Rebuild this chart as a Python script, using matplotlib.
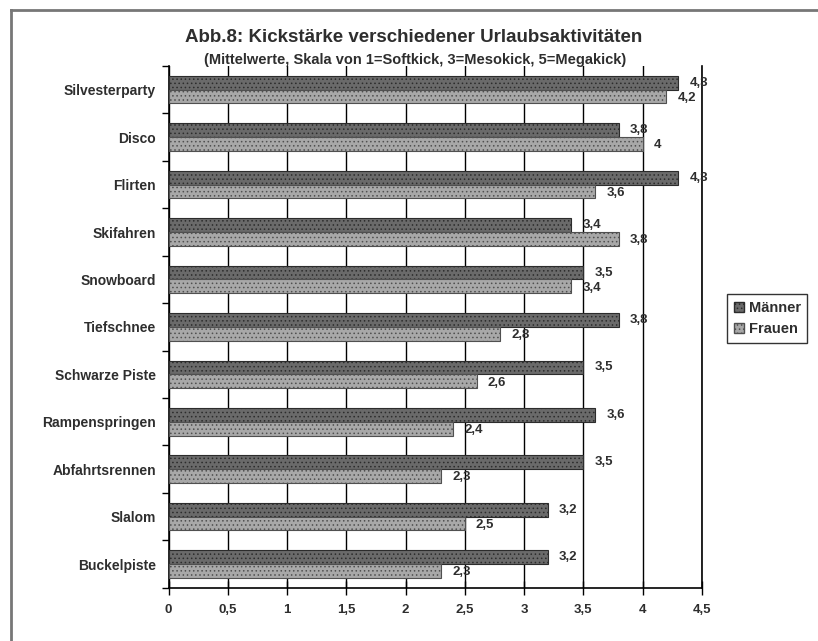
import matplotlib
matplotlib.use("Agg")
from matplotlib import pyplot as plt
from matplotlib.patches import Patch
import numpy as np

plt.rcParams['font.family'] = ['Liberation Sans', 'DejaVu Sans']
plt.rcParams['font.weight'] = 'bold'
plt.rcParams['hatch.linewidth'] = 0.6

aktivitaeten = ["Silvesterparty", "Disco", "Flirten", "Skifahren", "Snowboard",
                "Tiefschnee", "Schwarze Piste", "Rampenspringen", "Abfahrtsrennen",
                "Slalom", "Buckelpiste"]
maenner = [4.3, 3.8, 4.3, 3.4, 3.5, 3.8, 3.5, 3.6, 3.5, 3.2, 3.2]
frauen = [4.2, 4.0, 3.6, 3.8, 3.4, 2.8, 2.6, 2.4, 2.3, 2.5, 2.3]
x_ticks = [0, 0.5, 1, 1.5, 2, 2.5, 3, 3.5, 4, 4.5]

TEXT = '#2e2e2e'
M_FACE, M_EDGE = '#6a6a6a', '#2c2c2c'
F_FACE, F_EDGE = '#a8a8a8', '#505050'


def de_zahl(v):
    # deutsche Schreibweise mit Komma
    s = ('%g' % v)
    return s.replace('.', ',')


fig = plt.figure(figsize=(8.18, 6.41), dpi=100)
ax = fig.add_axes([0.206, 0.083, 0.652, 0.814])

y = np.arange(len(aktivitaeten))
h = 0.29
ax.barh(y - h / 2, maenner, height=h, color=M_FACE, edgecolor=M_EDGE,
        hatch='....', linewidth=0.8, zorder=3)
ax.barh(y + h / 2, frauen, height=h, color=F_FACE, edgecolor=F_EDGE,
        hatch='....', linewidth=0.8, zorder=3)

for i in range(len(aktivitaeten)):
    ax.annotate(de_zahl(maenner[i]), (maenner[i], y[i] - h / 2), xytext=(8, 0),
                textcoords='offset points', va='center', ha='left', fontsize=9.5,
                color=TEXT, fontweight='bold')
    ax.annotate(de_zahl(frauen[i]), (frauen[i], y[i] + h / 2), xytext=(8, -1),
                textcoords='offset points', va='center', ha='left', fontsize=9.5,
                color=TEXT, fontweight='bold')

ax.set_xlim(0, 4.5)
ax.set_ylim(len(aktivitaeten) - 0.5, -0.5)
ax.set_xticks(x_ticks)
ax.set_xticklabels([de_zahl(v) for v in x_ticks], fontsize=9.5, color=TEXT)
ax.tick_params(axis='x', direction='inout', length=10, width=1, pad=7)

# Teilstriche zwischen den Kategorien, Beschriftung in der Mitte
ax.set_yticks(np.arange(len(aktivitaeten) + 1) - 0.5)
ax.set_yticklabels([])
ax.tick_params(axis='y', which='major', direction='out', length=5, width=1)
ax.set_yticks(y, minor=True)
ax.set_yticklabels(aktivitaeten, minor=True, fontsize=10, color=TEXT)
ax.tick_params(axis='y', which='minor', length=0, pad=9)

ax.grid(axis='x', color='black', linewidth=1.0, zorder=0)
ax.set_axisbelow(True)
ax.spines['top'].set_visible(False)
for s in ['left', 'bottom', 'right']:
    ax.spines[s].set_linewidth(1.2)

fig.text(0.506, 0.941, "Abb.8: Kickstärke verschiedener Urlaubsaktivitäten",
         ha='center', va='center', fontsize=13.5, color=TEXT, fontweight='bold')
fig.text(0.508, 0.907, "(Mittelwerte, Skala von 1=Softkick, 3=Mesokick, 5=Megakick)",
         ha='center', va='center', fontsize=10.5, color=TEXT, fontweight='bold')

handles = [Patch(facecolor=M_FACE, edgecolor=M_EDGE, hatch='....', label='Männer'),
           Patch(facecolor=F_FACE, edgecolor=F_EDGE, hatch='....', label='Frauen')]
leg = fig.legend(handles=handles, loc='center', bbox_to_anchor=(0.938, 0.503),
                 fontsize=10.5, frameon=True, fancybox=False, handlelength=0.7,
                 handleheight=0.7, handletextpad=0.3, borderpad=0.45, labelspacing=0.5,
                 borderaxespad=0)
leg.get_frame().set_edgecolor('black')
leg.get_frame().set_linewidth(1.0)
for t in leg.get_texts():
    t.set_color(TEXT)

# Rahmen oben und links
fig.add_artist(plt.Line2D([0.0135, 0.0135], [0.0, 0.984], color='#777777', linewidth=2,
                          transform=fig.transFigure))
fig.add_artist(plt.Line2D([0.0135, 1.0], [0.984, 0.984], color='#777777', linewidth=2,
                          transform=fig.transFigure))

fig.savefig('out.png', dpi=100)
